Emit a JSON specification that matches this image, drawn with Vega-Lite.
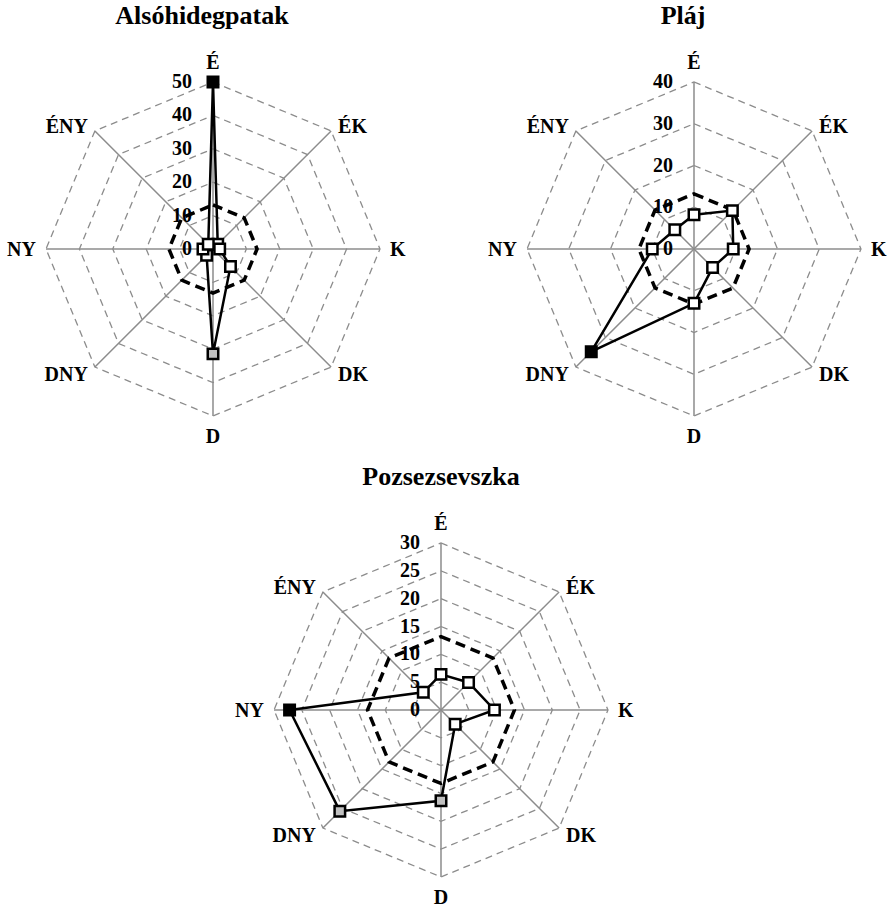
{
 "$schema": "https://vega.github.io/schema/vega-lite/v6.json",
 "padding": {"left": 7, "top": 3, "right": 0, "bottom": 0},
 "background": "white",
 "config": {
  "view": {"stroke": null},
  "title": {"font": "Liberation Serif", "fontSize": 26, "fontWeight": "bold", "color": "#000000", "offset": 24}
 },
 "spacing": 17,
 "vconcat": [
  {
   "spacing": 82,
   "hconcat": [
    {
     "title": {"text": "Alsóhidegpatak", "dx": -4},
     "width": 398, "height": 392,
     "data": {"values": [
      {"dir": "É", "v": 50, "cls": "max"},
      {"dir": "ÉK", "v": 2, "cls": "low"},
      {"dir": "K", "v": 2, "cls": "low"},
      {"dir": "DK", "v": 7.4, "cls": "low"},
      {"dir": "D", "v": 31.4, "cls": "high"},
      {"dir": "DNY", "v": 2.7, "cls": "low"},
      {"dir": "NY", "v": 3, "cls": "low"},
      {"dir": "ÉNY", "v": 2, "cls": "low"}
     ]},
     "transform": [
      {"calculate": "indexof(['É','ÉK','K','DK','D','DNY','NY','ÉNY'], datum.dir)", "as": "i"},
      {"calculate": "sin(datum.i*PI/4)", "as": "sx"},
      {"calculate": "cos(datum.i*PI/4)", "as": "cy"}
     ],
     "encoding": {
      "x": {"field": "px", "type": "quantitative", "scale": {"domain": [-1.2335, 1.1497], "nice": false, "zero": false}, "axis": null},
      "y": {"field": "py", "type": "quantitative", "scale": {"domain": [-1.1737, 1.1737], "nice": false, "zero": false}, "axis": null}
     },
     "layer": [
      {
       "transform": [{"calculate": "[10,20,30,40,50]", "as": "lv"}, {"flatten": ["lv"]}, {"calculate": "datum.lv/50*datum.sx", "as": "px"}, {"calculate": "datum.lv/50*datum.cy", "as": "py"}],
       "mark": {"type": "line", "interpolate": "linear-closed", "stroke": "#8c8c8c", "strokeWidth": 1.3, "strokeDash": [7, 5]},
       "encoding": {"detail": {"field": "lv"}, "order": {"field": "i"}}
      },
      {
       "transform": [{"calculate": "datum.sx", "as": "px"}, {"calculate": "datum.cy", "as": "py"}],
       "mark": {"type": "rule", "stroke": "#8c8c8c", "strokeWidth": 1.5},
       "encoding": {"x2": {"datum": 0}, "y2": {"datum": 0}}
      },
      {
       "transform": [{"calculate": "13.2/50*datum.sx", "as": "px"}, {"calculate": "13.2/50*datum.cy", "as": "py"}],
       "mark": {"type": "line", "interpolate": "linear-closed", "stroke": "#000000", "strokeWidth": 3.5, "strokeDash": [10, 6]},
       "encoding": {"order": {"field": "i"}}
      },
      {
       "transform": [{"calculate": "datum.v/50*datum.sx", "as": "px"}, {"calculate": "datum.v/50*datum.cy", "as": "py"}],
       "mark": {"type": "line", "interpolate": "linear-closed", "stroke": "#000000", "strokeWidth": 2.5},
       "encoding": {"order": {"field": "i"}}
      },
      {
       "transform": [{"calculate": "datum.v/50*datum.sx", "as": "px"}, {"calculate": "datum.v/50*datum.cy", "as": "py"}],
       "mark": {"type": "point", "shape": "square", "filled": true, "size": 110, "stroke": "#000000", "strokeWidth": 2.5, "opacity": 1},
       "encoding": {"color": {"field": "cls", "type": "nominal", "scale": {"domain": ["max", "high", "low"], "range": ["#000000", "#c0c0c0", "#ffffff"]}, "legend": null}}
      },
      {
       "transform": [{"calculate": "datum.sx", "as": "px"}, {"calculate": "datum.cy", "as": "py"}],
       "mark": {"type": "text", "font": "Liberation Serif", "fontSize": 20, "fontWeight": "bold", "color": "#000000", "baseline": "alphabetic",
        "align": {"expr": "datum.sx > 0.1 ? 'left' : (datum.sx < -0.1 ? 'right' : 'center')"},
        "dx": {"expr": "datum.sx > 0.9 ? 10 : (datum.sx > 0.1 ? 7 : (datum.sx < -0.9 ? -10 : (datum.sx < -0.1 ? -7 : 0)))"},
        "dy": {"expr": "datum.cy > 0.9 ? -13 : (datum.cy > 0.1 ? 2 : (datum.cy < -0.9 ? 27 : (datum.cy < -0.1 ? 13.5 : 7)))"}},
       "encoding": {"text": {"field": "dir"}}
      },
      {
       "transform": [{"filter": "datum.i == 0"}, {"calculate": "[0,10,20,30,40,50]", "as": "t"}, {"flatten": ["t"]}, {"calculate": "0", "as": "px"}, {"calculate": "datum.t/50", "as": "py"}],
       "mark": {"type": "text", "font": "Liberation Serif", "fontSize": 20, "fontWeight": "bold", "color": "#000000", "align": "right", "baseline": "middle", "dx": -21},
       "encoding": {"text": {"field": "t"}}
      }
     ]
    },
    {
     "title": {"text": "Pláj", "dx": -4},
     "width": 398, "height": 392,
     "data": {"values": [
      {"dir": "É", "v": 8.2, "cls": "low"},
      {"dir": "ÉK", "v": 13.0, "cls": "low"},
      {"dir": "K", "v": 9.4, "cls": "low"},
      {"dir": "DK", "v": 6.3, "cls": "low"},
      {"dir": "D", "v": 13.0, "cls": "low"},
      {"dir": "DNY", "v": 34.8, "cls": "max"},
      {"dir": "NY", "v": 10.0, "cls": "low"},
      {"dir": "ÉNY", "v": 6.5, "cls": "low"}
     ]},
     "transform": [
      {"calculate": "indexof(['É','ÉK','K','DK','D','DNY','NY','ÉNY'], datum.dir)", "as": "i"},
      {"calculate": "sin(datum.i*PI/4)", "as": "sx"},
      {"calculate": "cos(datum.i*PI/4)", "as": "cy"}
     ],
     "encoding": {
      "x": {"field": "px", "type": "quantitative", "scale": {"domain": [-1.2335, 1.1497], "nice": false, "zero": false}, "axis": null},
      "y": {"field": "py", "type": "quantitative", "scale": {"domain": [-1.1737, 1.1737], "nice": false, "zero": false}, "axis": null}
     },
     "layer": [
      {
       "transform": [{"calculate": "[10,20,30,40]", "as": "lv"}, {"flatten": ["lv"]}, {"calculate": "datum.lv/40*datum.sx", "as": "px"}, {"calculate": "datum.lv/40*datum.cy", "as": "py"}],
       "mark": {"type": "line", "interpolate": "linear-closed", "stroke": "#8c8c8c", "strokeWidth": 1.3, "strokeDash": [7, 5]},
       "encoding": {"detail": {"field": "lv"}, "order": {"field": "i"}}
      },
      {
       "transform": [{"calculate": "datum.sx", "as": "px"}, {"calculate": "datum.cy", "as": "py"}],
       "mark": {"type": "rule", "stroke": "#8c8c8c", "strokeWidth": 1.5},
       "encoding": {"x2": {"datum": 0}, "y2": {"datum": 0}}
      },
      {
       "transform": [{"calculate": "13.2/40*datum.sx", "as": "px"}, {"calculate": "13.2/40*datum.cy", "as": "py"}],
       "mark": {"type": "line", "interpolate": "linear-closed", "stroke": "#000000", "strokeWidth": 3.5, "strokeDash": [10, 6]},
       "encoding": {"order": {"field": "i"}}
      },
      {
       "transform": [{"calculate": "datum.v/40*datum.sx", "as": "px"}, {"calculate": "datum.v/40*datum.cy", "as": "py"}],
       "mark": {"type": "line", "interpolate": "linear-closed", "stroke": "#000000", "strokeWidth": 2.5},
       "encoding": {"order": {"field": "i"}}
      },
      {
       "transform": [{"calculate": "datum.v/40*datum.sx", "as": "px"}, {"calculate": "datum.v/40*datum.cy", "as": "py"}],
       "mark": {"type": "point", "shape": "square", "filled": true, "size": 110, "stroke": "#000000", "strokeWidth": 2.5, "opacity": 1},
       "encoding": {"color": {"field": "cls", "type": "nominal", "scale": {"domain": ["max", "high", "low"], "range": ["#000000", "#c0c0c0", "#ffffff"]}, "legend": null}}
      },
      {
       "transform": [{"calculate": "datum.sx", "as": "px"}, {"calculate": "datum.cy", "as": "py"}],
       "mark": {"type": "text", "font": "Liberation Serif", "fontSize": 20, "fontWeight": "bold", "color": "#000000", "baseline": "alphabetic",
        "align": {"expr": "datum.sx > 0.1 ? 'left' : (datum.sx < -0.1 ? 'right' : 'center')"},
        "dx": {"expr": "datum.sx > 0.9 ? 10 : (datum.sx > 0.1 ? 7 : (datum.sx < -0.9 ? -10 : (datum.sx < -0.1 ? -7 : 0)))"},
        "dy": {"expr": "datum.cy > 0.9 ? -13 : (datum.cy > 0.1 ? 2 : (datum.cy < -0.9 ? 27 : (datum.cy < -0.1 ? 13.5 : 7)))"}},
       "encoding": {"text": {"field": "dir"}}
      },
      {
       "transform": [{"filter": "datum.i == 0"}, {"calculate": "[0,10,20,30,40]", "as": "t"}, {"flatten": ["t"]}, {"calculate": "0", "as": "px"}, {"calculate": "datum.t/40", "as": "py"}],
       "mark": {"type": "text", "font": "Liberation Serif", "fontSize": 20, "fontWeight": "bold", "color": "#000000", "align": "right", "baseline": "middle", "dx": -21},
       "encoding": {"text": {"field": "t"}}
      }
     ]
    }
   ]
  },
  {
   "title": {"text": "Pozsezsevszka", "dx": -5},
   "width": 878, "height": 392,
   "data": {"values": [
    {"dir": "É", "v": 6.4, "cls": "low"},
    {"dir": "ÉK", "v": 7.0, "cls": "low"},
    {"dir": "K", "v": 9.6, "cls": "low"},
    {"dir": "DK", "v": 3.6, "cls": "low"},
    {"dir": "D", "v": 16.3, "cls": "high"},
    {"dir": "DNY", "v": 25.7, "cls": "high"},
    {"dir": "NY", "v": 27.2, "cls": "max"},
    {"dir": "ÉNY", "v": 4.5, "cls": "low"}
   ]},
   "transform": [
    {"calculate": "indexof(['É','ÉK','K','DK','D','DNY','NY','ÉNY'], datum.dir)", "as": "i"},
    {"calculate": "sin(datum.i*PI/4)", "as": "sx"},
    {"calculate": "cos(datum.i*PI/4)", "as": "cy"}
   ],
   "encoding": {
    "x": {"field": "px", "type": "quantitative", "scale": {"domain": [-2.5988, 2.6587], "nice": false, "zero": false}, "axis": null},
    "y": {"field": "py", "type": "quantitative", "scale": {"domain": [-1.1737, 1.1737], "nice": false, "zero": false}, "axis": null}
   },
   "layer": [
    {
     "transform": [{"calculate": "[5,10,15,20,25,30]", "as": "lv"}, {"flatten": ["lv"]}, {"calculate": "datum.lv/30*datum.sx", "as": "px"}, {"calculate": "datum.lv/30*datum.cy", "as": "py"}],
     "mark": {"type": "line", "interpolate": "linear-closed", "stroke": "#8c8c8c", "strokeWidth": 1.3, "strokeDash": [7, 5]},
     "encoding": {"detail": {"field": "lv"}, "order": {"field": "i"}}
    },
    {
     "transform": [{"calculate": "datum.sx", "as": "px"}, {"calculate": "datum.cy", "as": "py"}],
     "mark": {"type": "rule", "stroke": "#8c8c8c", "strokeWidth": 1.5},
     "encoding": {"x2": {"datum": 0}, "y2": {"datum": 0}}
    },
    {
     "transform": [{"calculate": "13.2/30*datum.sx", "as": "px"}, {"calculate": "13.2/30*datum.cy", "as": "py"}],
     "mark": {"type": "line", "interpolate": "linear-closed", "stroke": "#000000", "strokeWidth": 3.5, "strokeDash": [10, 6]},
     "encoding": {"order": {"field": "i"}}
    },
    {
     "transform": [{"calculate": "datum.v/30*datum.sx", "as": "px"}, {"calculate": "datum.v/30*datum.cy", "as": "py"}],
     "mark": {"type": "line", "interpolate": "linear-closed", "stroke": "#000000", "strokeWidth": 2.5},
     "encoding": {"order": {"field": "i"}}
    },
    {
     "transform": [{"calculate": "datum.v/30*datum.sx", "as": "px"}, {"calculate": "datum.v/30*datum.cy", "as": "py"}],
     "mark": {"type": "point", "shape": "square", "filled": true, "size": 110, "stroke": "#000000", "strokeWidth": 2.5, "opacity": 1},
     "encoding": {"color": {"field": "cls", "type": "nominal", "scale": {"domain": ["max", "high", "low"], "range": ["#000000", "#c0c0c0", "#ffffff"]}, "legend": null}}
    },
    {
     "transform": [{"calculate": "datum.sx", "as": "px"}, {"calculate": "datum.cy", "as": "py"}],
     "mark": {"type": "text", "font": "Liberation Serif", "fontSize": 20, "fontWeight": "bold", "color": "#000000", "baseline": "alphabetic",
      "align": {"expr": "datum.sx > 0.1 ? 'left' : (datum.sx < -0.1 ? 'right' : 'center')"},
      "dx": {"expr": "datum.sx > 0.9 ? 10 : (datum.sx > 0.1 ? 7 : (datum.sx < -0.9 ? -10 : (datum.sx < -0.1 ? -7 : 0)))"},
      "dy": {"expr": "datum.cy > 0.9 ? -13 : (datum.cy > 0.1 ? 2 : (datum.cy < -0.9 ? 27 : (datum.cy < -0.1 ? 13.5 : 7)))"}},
     "encoding": {"text": {"field": "dir"}}
    },
    {
     "transform": [{"filter": "datum.i == 0"}, {"calculate": "[0,5,10,15,20,25,30]", "as": "t"}, {"flatten": ["t"]}, {"calculate": "0", "as": "px"}, {"calculate": "datum.t/30", "as": "py"}],
     "mark": {"type": "text", "font": "Liberation Serif", "fontSize": 20, "fontWeight": "bold", "color": "#000000", "align": "right", "baseline": "middle", "dx": -21},
     "encoding": {"text": {"field": "t"}}
    }
   ]
  }
 ]
}
